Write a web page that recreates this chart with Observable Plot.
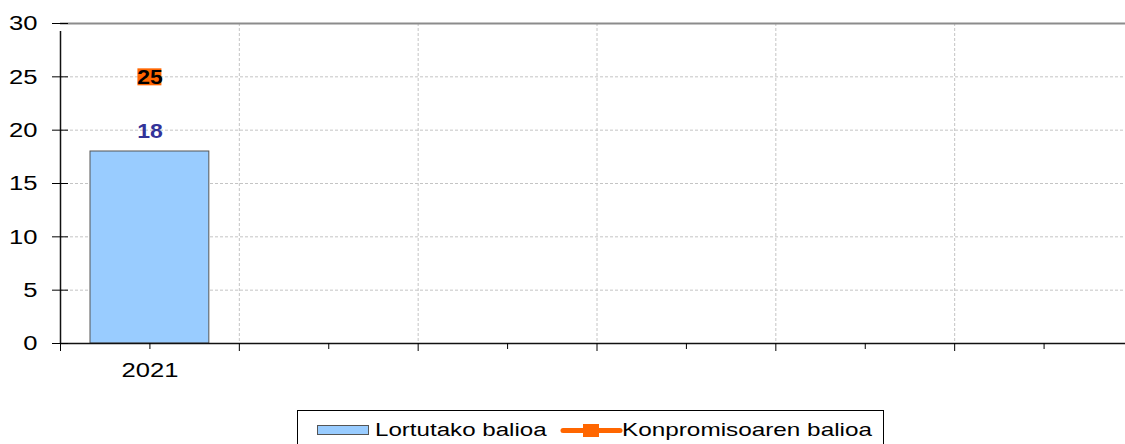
<!DOCTYPE html>
<html>
<head>
<meta charset="utf-8">
<script src="https://cdn.jsdelivr.net/npm/d3@7"></script>
<script src="https://cdn.jsdelivr.net/npm/@observablehq/plot@0.6"></script>
<style>
  html, body { margin: 0; padding: 0; background: #fff; overflow: hidden; }
  #wrap { position: relative; width: 1125px; height: 444px; }
  #legend { display: block; }
  text { font-family: 'Liberation Sans', Arial, sans-serif; }
</style>
</head>
<body>
<div id="wrap"></div>
<script>
// ---- data ----
const categories = ["2021", "c2", "c3", "c4", "c5", "c6"];
const tickLabels = ["2021", "", "", "", "", ""];
const years = ["2021"];
const achieved = [18];     // Lortutako balioa
const commitment = [25];   // Konpromisoaren balioa
const yTicks = [0, 5, 10, 15, 20, 25, 30];
const seriesNames = ["Lortutako balioa", "Konpromisoaren balioa"];
const barColor = "#99CCFF";
const lineColor = "#FF6600";
const labelColor = "#333399";

const data = years.map((c, i) => ({cat: c, achieved: achieved[i], commitment: commitment[i]}));

const xRange = [60, 1133];
const bw = (xRange[1] - xRange[0]) / categories.length;
const markerW = 24;

const chart = Plot.plot({
  width: 1125,
  height: 405,
  marginLeft: 60,
  marginRight: 0,
  marginTop: 23,
  marginBottom: 62,
  style: {fontFamily: "'Liberation Sans', Arial, sans-serif", fontSize: "21px", background: "white", overflow: "visible", color: "#000"},
  x: {type: "band", domain: categories, range: xRange, padding: 0, round: false, label: null},
  y: {domain: [0, 30], label: null},
  marks: [
    Plot.ruleY(yTicks.filter(v => v > 0 && v < 30), {stroke: "#c4c4c4", strokeDasharray: "3,2"}),
    Plot.ruleX(categories.slice(1), {x: d => d, dx: -bw / 2, stroke: "#c4c4c4", strokeDasharray: "3,2"}),
    Plot.ruleY([30], {stroke: "#8c8c8c", strokeWidth: 2}),
    Plot.barY(data, {x: "cat", y: "achieved", fill: barColor, stroke: "#555", strokeWidth: 1, insetLeft: 30, insetRight: 30}),
    Plot.ruleY([0], {stroke: "#111", strokeWidth: 1.5}),
    Plot.ruleX([categories[0]], {x: d => d, dx: -bw / 2, y1: 0, y2: 30, insetBottom: -8, stroke: "#111", strokeWidth: 1.5}),
    Plot.axisY({ticks: yTicks, tickSize: 16, dx: 8, tickPadding: 15, label: null, stroke: "#000"}),
    Plot.axisX({ticks: categories, tickSize: 6, tickPadding: 13, label: null,
      tickFormat: d => tickLabels[categories.indexOf(d)]}),
    Plot.axisX({ticks: categories, tickSize: 8, dx: -bw / 2, label: null, tickFormat: () => ""}),
    Plot.line(data, {x: "cat", y: "commitment", stroke: lineColor, strokeWidth: 5}),
    Plot.tickY(data, {x: "cat", y: "commitment", stroke: lineColor, strokeWidth: 17,
      insetLeft: (bw - markerW) / 2, insetRight: (bw - markerW) / 2}),
    Plot.text(data, {x: "cat", y: "commitment", text: d => String(d.commitment), fill: "#000",
      fontWeight: "bold", fontSize: 20, dy: 1}),
    Plot.text(data, {x: "cat", y: "achieved", text: d => String(d.achieved), fill: labelColor,
      fontWeight: "bold", fontSize: 20, lineAnchor: "bottom", dy: -14})
  ]
});

// horizontally stretch text glyphs like the original (wide) rendering
function stretch(root, selector, s) {
  root.querySelectorAll(selector).forEach(t => {
    const tr = t.getAttribute("transform");
    if (tr) t.setAttribute("transform", tr + ` scale(${s},1)`);
    else {
      const x = +t.getAttribute("x") || 0, y = +t.getAttribute("y") || 0;
      t.setAttribute("transform", `translate(${x},${y}) scale(${s},1)`);
      t.setAttribute("x", 0); t.setAttribute("y", 0);
    }
  });
}
stretch(chart, 'g[aria-label="y-axis tick label"] text', 1.22);
stretch(chart, 'g[aria-label="x-axis tick label"] text', 1.22);
stretch(chart, 'g[aria-label="text"] text', 1.15);

const wrap = document.getElementById("wrap");
wrap.appendChild(chart);

// ---- legend (below the chart) ----
const NS = "http://www.w3.org/2000/svg";
const leg = document.createElementNS(NS, "svg");
leg.setAttribute("id", "legend");
leg.setAttribute("width", 1125);
leg.setAttribute("height", 39);
leg.innerHTML = `
  <rect x="297.5" y="5.5" width="586" height="60" fill="#fff" stroke="#000" stroke-width="1"/>
  <rect x="317.5" y="20.5" width="51" height="9" fill="${barColor}" stroke="#555" stroke-width="1"/>
  <text transform="translate(375,31) scale(1.27,1)" font-size="19" fill="#000">${seriesNames[0]}</text>
  <line x1="563" x2="620" y1="25.5" y2="25.5" stroke="${lineColor}" stroke-width="5" stroke-linecap="round"/>
  <rect x="583" y="19" width="16" height="13" fill="${lineColor}"/>
  <text transform="translate(622,31) scale(1.28,1)" font-size="19" fill="#000">${seriesNames[1]}</text>
`;
wrap.appendChild(leg);
</script>
</body>
</html>
